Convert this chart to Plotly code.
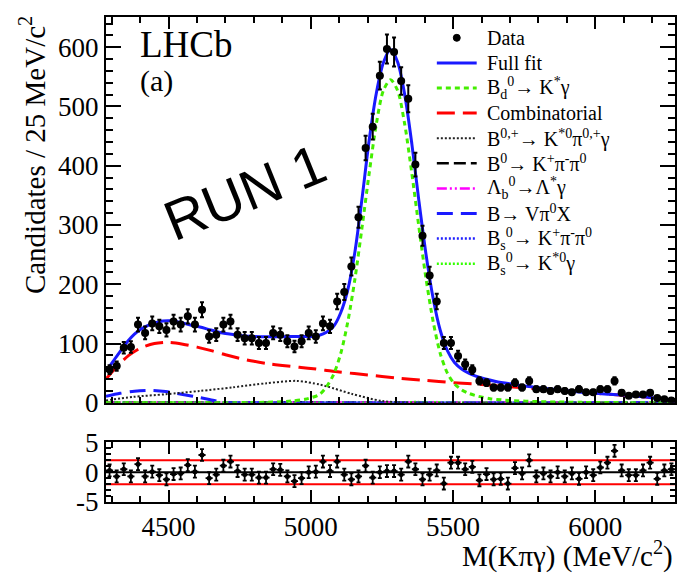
import numpy as np
import plotly.graph_objects as go

# ---------------- data ----------------
bin_lo, bin_w, n_bins = 4280.0, 25.0, 80
bin_centers = bin_lo + bin_w * (np.arange(n_bins) + 0.5)

counts = [56, 62, 93, 94, 132, 118, 134, 129, 123, 137,
          132, 146, 132, 157, 112, 115, 132, 137, 115, 109,
          109, 101, 101, 118, 115, 104, 95, 104, 118, 112,
          134, 129, 171, 187, 230, 313, 430, 466, 552, 597,
          592, 543, 513, 402, 282, 215, 171, 101, 101, 79,
          65, 56, 37, 34, 26, 26, 26, 34, 26, 37,
          23, 23, 20, 23, 20, 18, 23, 18, 18, 23,
          23, 37, 17, 12, 14, 14, 17, 8, 6, 4]

pulls = [0.3, -0.7, 0.5, -0.7, 1.35, -0.7, 0.1, -0.5, -1.2, -0.3,
         -0.2, 1.2, 0.1, 2.9, -1.0, -0.4, 1.1, 1.8, 0.2, -0.4,
         -0.4, -0.9, -0.9, 0.5, 0.4, -0.7, -1.5, -1.0, 0.0, 0.1,
         1.8, 0.2, 1.8, -0.4, -1.2, -0.7, 1.1, -0.9, 0.0, 0.2,
         0.2, -0.4, 1.8, 0.5, -1.2, -0.4, 0.3, -1.9, 1.6, 1.6,
         0.5, 0.9, -1.35, -0.3, -1.2, -1.1, -1.9, 0.7, -0.2, 2.0,
         -0.7, -0.2, -0.7, 0.0, -0.7, -0.2, -1.1, 0.0, -0.5, 0.8,
         1.6, 3.6, 0.3, -0.5, -0.5, 0.3, 1.6, -1.1, 0.3, 0.5]

fit_mass = [4280, 4305, 4330, 4355, 4380, 4405, 4430, 4455, 4480, 4505,
            4530, 4555, 4580, 4610, 4640, 4670, 4700, 4730, 4760, 4800,
            4850, 4900, 4950, 5000, 5030, 5055, 5080, 5105, 5130, 5155,
            5180, 5205, 5230, 5255, 5280, 5305, 5330, 5355, 5380, 5405,
            5430, 5455, 5480, 5505, 5530, 5555, 5580, 5610, 5650, 5700,
            5750, 5800, 5850, 5900, 5950, 6000, 6050, 6100, 6150, 6200,
            6250, 6280]
fit_vals = [53, 70, 87, 103, 116, 125, 131, 135, 138, 138.5,
            137, 134, 131, 128, 124, 120, 117, 115, 113, 112,
            111.5, 111.5, 112, 112, 114, 119, 129, 152, 191, 255,
            345, 443, 522, 574, 596, 575, 520, 437, 340, 250,
            176, 122, 88, 68, 57, 50, 45, 40.5, 36, 32,
            28.5, 25.5, 23, 20.5, 18, 16, 14.5, 13, 11, 8.5,
            5, 2]

sig_mass = [4280, 4800, 4880, 4930, 4980, 5030, 5055, 5080, 5105, 5130,
            5155, 5180, 5205, 5230, 5255, 5280, 5305, 5330, 5355, 5380,
            5405, 5430, 5455, 5480, 5505, 5530, 5555, 5580, 5630, 5700,
            5800, 5950, 6100, 6280]
sig_vals = [0, 0.5, 1.5, 3, 6, 14, 27, 48, 83, 137,
            209, 296, 387, 470, 527, 545, 527, 470, 387, 296,
            209, 137, 83, 50, 32, 22, 16, 12, 7, 4,
            2, 0.8, 0.3, 0.1]

comb_mass = [4280, 4320, 4360, 4400, 4450, 4500, 4550, 4600, 4650, 4700,
             4750, 4800, 4850, 4900, 4960, 5000, 5050, 5100, 5200, 5300,
             5400, 5500, 5600, 5700, 5850, 5950, 6050, 6150, 6200, 6250, 6280]
comb_vals = [40, 62, 80, 92, 100, 102, 99, 94, 88, 81,
             75, 70, 66, 63, 60, 58, 55, 52, 47, 42,
             38, 34, 31, 27, 22, 17.5, 14.5, 11, 8.5, 5, 2]

kpg_mass = [4280, 4375, 4490, 4610, 4725, 4845, 4950, 5030, 5055, 5145, 5250, 5350, 6280]
kpg_vals = [4, 10, 14.5, 20, 26, 33, 37, 31, 28, 15, 3, 0.3, 0]

vpx_mass = [4280, 4330, 4380, 4435, 4490, 4550, 4610, 4660, 4705, 4800, 6280]
vpx_vals = [11, 16, 19.5, 21, 19, 14, 9, 4, 0.5, 0, 0]

kpp_mass = [4280, 4700, 5000, 5200, 5400, 6280]
kpp_vals = [0.3, 0.6, 0.8, 0.6, 0.3, 0]

lb_mass = [4280, 4800, 5200, 5500, 5800, 6280]
lb_vals = [0, 0.3, 0.6, 0.5, 0.3, 0]

bskpp_mass = [4280, 4800, 5200, 5500, 5800, 6280]
bskpp_vals = [0.2, 0.3, 0.4, 0.3, 0.2, 0]

bsk_mass = [4280, 5200, 5300, 5370, 5450, 5550, 6280]
bsk_vals = [0, 0.2, 0.8, 1.2, 0.8, 0.2, 0]

legend_names = ["Data", "Full fit", "B<sub>d</sub><sup>0</sup>→ K<sup>*</sup>γ", "Combinatorial",
                "B<sup>0,+</sup>→ K<sup>*0</sup>π<sup>0,+</sup>γ", "B<sup>0</sup>→ K<sup>+</sup>π<sup>-</sup>π<sup>0</sup>",
                "Λ<sub>b</sub><sup>0</sup>→Λ<sup>*</sup>γ", "B→ Vπ<sup>0</sup>X",
                "B<sub>s</sub><sup>0</sup>→ K<sup>+</sup>π<sup>-</sup>π<sup>0</sup>",
                "B<sub>s</sub><sup>0</sup>→ K<sup>*0</sup>γ"]

# ---------------- figure ----------------
SERIF = "Liberation Serif, Times New Roman, serif"
W, H = 679, 579
ML, MR, MT, MB = 106, 2, 13, 77
PW, PH = W - ML - MR, H - MT - MB


def px2paper(px, py):
    return (px - ML) / PW, (H - MB - py) / PH


fig = go.Figure()

styles = {}


def curve(xs, ys, key, color, dash, width):
    styles[key] = (color, dash, width)
    fig.add_trace(go.Scatter(x=xs, y=ys, mode="lines", name=legend_names[key], showlegend=False,
                             line=dict(color=color, dash=dash, width=width, shape="spline", smoothing=0.8),
                             xaxis="x", yaxis="y", hoverinfo="skip"))


curve(kpp_mass, kpp_vals, 5, "black", "12px,5px", 2.5)
curve(lb_mass, lb_vals, 6, "magenta", "10px,3px,2px,3px,2px,3px", 2.5)
curve(bskpp_mass, bskpp_vals, 8, "#2020ff", "2px,2px", 2.5)
curve(bsk_mass, bsk_vals, 9, "#33ff00", "2px,2px", 2.5)
curve(vpx_mass, vpx_vals, 7, "#1a1aff", "16px,8px", 3)
curve(kpg_mass, kpg_vals, 4, "#222222", "2px,2px", 2)
curve(comb_mass, comb_vals, 3, "#ff0000", "18px,8px", 3)
curve(sig_mass, sig_vals, 2, "#44ee00", "5px,4px", 3)
curve(fit_mass, fit_vals, 1, "#1a1aff", "solid", 3)

counts_arr = np.array(counts, dtype=float)
fig.add_trace(go.Scatter(
    x=bin_centers, y=counts_arr, mode="markers", name=legend_names[0], showlegend=False,
    marker=dict(color="black", size=8, symbol="circle"),
    error_y=dict(type="data", array=np.sqrt(counts_arr), color="black", thickness=2, width=2),
    error_x=dict(type="constant", value=bin_w / 2, color="black", thickness=2, width=0),
    xaxis="x", yaxis="y", hoverinfo="skip"))

fig.add_trace(go.Scatter(
    x=bin_centers, y=pulls, mode="markers", showlegend=False,
    marker=dict(color="black", size=5),
    error_y=dict(type="constant", value=1, color="black", thickness=1.8, width=2),
    error_x=dict(type="constant", value=bin_w / 2, color="black", thickness=1.8, width=0),
    xaxis="x2", yaxis="y2", hoverinfo="skip"))

for yv, col in [(0, "black"), (2, "red"), (-2, "red")]:
    fig.add_shape(type="line", xref="x2 domain", yref="y2", x0=0, x1=1, y0=yv, y1=yv,
                  line=dict(color=col, width=2), layer="below")

# ---- legend drawn in paper space (symbol + text rows) ----
leg_sym_x0, leg_sym_x1, leg_text_x = 438, 478, 486
leg_row0, leg_dy = 34, 25.3
for i, name in enumerate(legend_names):
    yc = leg_row0 + i * leg_dy
    _, py = px2paper(0, yc)
    tx, _ = px2paper(leg_text_x, 0)
    fig.add_annotation(text=name, x=tx, y=py, xref="paper", yref="paper",
                       xanchor="left", yanchor="middle", showarrow=False,
                       font=dict(family=SERIF, size=20, color="black"))
    if i == 0:
        cx, _ = px2paper((leg_sym_x0 + leg_sym_x1) / 2, 0)
        r = 3.5
        fig.add_shape(type="circle", xref="paper", yref="paper",
                      x0=cx - r / PW, x1=cx + r / PW, y0=py - r / PH, y1=py + r / PH,
                      fillcolor="black", line=dict(color="black", width=1))
    else:
        color, dash, width = styles[i]
        x0, _ = px2paper(leg_sym_x0, 0)
        x1, _ = px2paper(leg_sym_x1, 0)
        fig.add_shape(type="line", xref="paper", yref="paper", x0=x0, x1=x1, y0=py, y1=py,
                      line=dict(color=color, dash=dash, width=width))

axis_common = dict(showline=True, linewidth=2, linecolor="black", mirror="ticks",
                   ticks="inside", tickwidth=2, tickcolor="black", showgrid=False, zeroline=False)
tickfont = dict(family=SERIF, size=27, color="black")

fig.update_layout(
    width=W, height=H,
    margin=dict(l=ML, r=MR, t=MT, b=MB),
    paper_bgcolor="white", plot_bgcolor="white",
    font=dict(family=SERIF, color="black", size=26),
    showlegend=False,
    xaxis=dict(domain=[0, 1], range=[4280, 6280], anchor="y", showticklabels=False,
               tick0=4500, dtick=500, ticklen=12,
               minor=dict(ticks="inside", dtick=100, tick0=4500, ticklen=6, tickwidth=1.5, tickcolor="black"),
               **axis_common),
    yaxis=dict(domain=[(H - MB - 402) / PH, 1], range=[0, 651], anchor="x", dtick=100, ticklen=15,
               tickfont=tickfont,
               minor=dict(ticks="inside", dtick=20, ticklen=7, tickwidth=1.5, tickcolor="black"),
               **axis_common),
    xaxis2=dict(domain=[0, 1], range=[4280, 6280], anchor="y2", matches="x",
                tick0=4500, dtick=500, ticklen=12, tickfont=tickfont,
                minor=dict(ticks="inside", dtick=100, tick0=4500, ticklen=6, tickwidth=1.5, tickcolor="black"),
                **axis_common),
    yaxis2=dict(domain=[0, (H - MB - 442) / PH], range=[-5, 5], anchor="x2", tickvals=[-5, 0, 5],
                ticktext=["-5", "0", "5"], ticklen=10, tickfont=tickfont,
                minor=dict(ticks="inside", dtick=1, ticklen=5, tickwidth=1.5, tickcolor="black"),
                **axis_common),
)

x_, y_ = px2paper(138, 41)
fig.add_annotation(text="LHCb", x=x_, y=y_, xref="paper", yref="paper",
                   xanchor="left", yanchor="middle", showarrow=False,
                   font=dict(family=SERIF, size=37))
x_, y_ = px2paper(138, 78)
fig.add_annotation(text="(a)", x=x_, y=y_, xref="paper", yref="paper",
                   xanchor="left", yanchor="middle", showarrow=False,
                   font=dict(family=SERIF, size=30))
x_, y_ = px2paper(245, 190)
fig.add_annotation(text="RUN 1", x=x_, y=y_, xref="paper", yref="paper",
                   xanchor="center", yanchor="middle", showarrow=False, textangle=-22,
                   font=dict(family="Liberation Sans, Arial, sans-serif", size=56))
x_, y_ = px2paper(677, 555)
fig.add_annotation(text="M(Kπγ) (MeV/c<sup>2</sup>)", x=x_, y=y_, xref="paper", yref="paper",
                   xanchor="right", yanchor="middle", showarrow=False,
                   font=dict(family=SERIF, size=29))
x_, y_ = px2paper(32, 152)
fig.add_annotation(text="Candidates / 25 MeV/c<sup>2</sup>", x=x_, y=y_, xref="paper", yref="paper",
                   xanchor="center", yanchor="middle", showarrow=False, textangle=-90,
                   font=dict(family=SERIF, size=29))

fig.write_html("out.html")
